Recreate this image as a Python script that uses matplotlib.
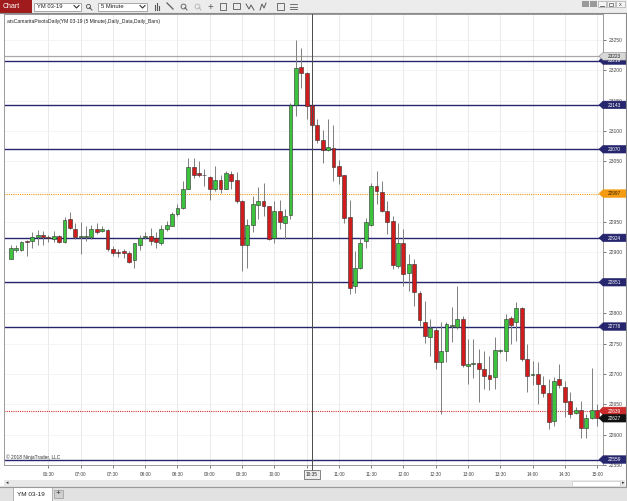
import numpy as np
import pandas as pd
import matplotlib
matplotlib.use("Agg")
import matplotlib.pyplot as plt
from matplotlib.patches import Rectangle, Polygon

plt.rcParams["font.family"] = ["Liberation Sans", "DejaVu Sans"]

# 5 minute YM 03-19 bars, 05:55 .. 15:00
opens = [22890, 22904, 22904, 22919, 22919, 22926, 22928, 22925, 22922, 22927,
         22917, 22955, 22939, 22926, 22926, 22926, 22939, 22935, 22937, 22905,
         22901, 22903, 22899, 22887, 22912, 22926, 22927, 22923, 22916, 22939,
         22944, 22963, 22974, 23005, 23040, 23031, 23027, 23024, 23004, 23020,
         23005, 23030, 23020, 22985, 22913, 22946, 22978, 22985, 22976, 22923,
         22968, 22948, 22961, 23143, 23205, 23196, 23143, 23110, 23086, 23068,
         23072, 23043, 23027, 22959, 22845, 22875, 22919, 22946, 23009, 22999,
         22968, 22952, 22878, 22916, 22866, 22881, 22834, 22786, 22760, 22772,
         22719, 22738, 22779, 22778, 22790, 22713, 22716, 22718, 22708, 22698,
         22695, 22738, 22738, 22792, 22786, 22808, 22725, 22699, 22700, 22682,
         22669, 22622, 22691, 22678, 22656, 22636, 22640, 22611, 22627, 22641]
highs = [22912, 22912, 22919, 22920, 22933, 22937, 22935, 22928, 22935, 22928,
         22958, 22967, 22949, 22950, 22944, 22946, 22949, 22944, 22938, 22911,
         22905, 22905, 22903, 22916, 22928, 22934, 22941, 22933, 22946, 22952,
         22966, 22979, 23017, 23056, 23056, 23051, 23037, 23026, 23042, 23027,
         23034, 23034, 23033, 22987, 22955, 22993, 23007, 23015, 22976, 22985,
         22987, 22971, 23146, 23250, 23237, 23198, 23163, 23119, 23102, 23119,
         23110, 23053, 23028, 22987, 22903, 22924, 22957, 23015, 23034, 23017,
         22985, 22960, 22949, 22938, 22897, 22889, 22837, 22820, 22790, 22777,
         22785, 22785, 22810, 22845, 22796, 22758, 22758, 22741, 22738, 22730,
         22760, 22741, 22799, 22796, 22819, 22810, 22749, 22722, 22719, 22697,
         22692, 22695, 22717, 22689, 22671, 22645, 22655, 22634, 22709, 22651]
lows = [22889, 22901, 22903, 22894, 22908, 22913, 22913, 22917, 22917, 22916,
        22915, 22938, 22922, 22897, 22919, 22922, 22930, 22933, 22903, 22895,
        22893, 22891, 22882, 22874, 22904, 22922, 22913, 22908, 22913, 22935,
        22943, 22960, 22971, 23004, 23023, 23025, 23009, 22987, 23001, 22998,
        23004, 23004, 22982, 22870, 22875, 22933, 22955, 22960, 22920, 22915,
        22938, 22922, 22955, 23124, 23171, 23120, 23100, 23080, 23048, 23067,
        23017, 23012, 22949, 22831, 22834, 22872, 22908, 22944, 22979, 22966,
        22930, 22872, 22875, 22845, 22837, 22812, 22779, 22751, 22730, 22708,
        22634, 22719, 22752, 22774, 22711, 22684, 22693, 22654, 22675, 22673,
        22675, 22735, 22722, 22749, 22755, 22722, 22670, 22681, 22651, 22662,
        22610, 22614, 22676, 22629, 22627, 22634, 22595, 22595, 22626, 22614]
closes = [22908, 22908, 22917, 22917, 22926, 22929, 22925, 22924, 22927, 22917,
          22953, 22941, 22926, 22926, 22926, 22938, 22934, 22938, 22905, 22899,
          22899, 22899, 22885, 22915, 22924, 22926, 22919, 22917, 22939, 22945,
          22963, 22974, 23004, 23040, 23027, 23027, 23027, 23005, 23020, 23005,
          23031, 23017, 22985, 22913, 22946, 22979, 22984, 22977, 22922, 22968,
          22950, 22960, 23143, 23204, 23196, 23142, 23110, 23086, 23068, 23074,
          23041, 23026, 22957, 22842, 22874, 22916, 22950, 23009, 23001, 22968,
          22950, 22879, 22915, 22864, 22881, 22835, 22788, 22763, 22775, 22720,
          22738, 22782, 22779, 22790, 22714, 22716, 22716, 22708, 22697, 22691,
          22740, 22738, 22790, 22781, 22808, 22724, 22697, 22699, 22684, 22669,
          22620, 22689, 22681, 22654, 22634, 22640, 22611, 22627, 22640, 22627]

# Camarilla pivot levels (daily)
pivot_levels = [23216, 23143, 23070, 22924, 22851, 22778, 22559]
pivot_mid = 22997
prior_high = 23223
prior_close = 22639

price_ticks = list(range(22550, 23251, 50))
time_labels = ["06:30", "07:00", "07:30", "08:00", "08:30", "09:00", "09:30",
               "10:00", "10:30", "11:00", "11:30", "12:00", "12:30", "13:00",
               "13:30", "14:00", "14:30", "15:00"]
cursor_time = "10:35"
# labels fully covered by the level tags / cursor box in the screenshot
hidden_labels = {"23000", "10:30"}

o, h, l, c = (np.array(a, dtype=float) for a in (opens, highs, lows, closes))
times = pd.date_range("2018-12-20 05:55", periods=len(c), freq="5min").strftime("%H:%M")
x = np.arange(len(c))

W, H = 627, 501
fig = plt.figure(figsize=(W / 100, H / 100), dpi=100)
fig.patch.set_facecolor("white")

ax = fig.add_axes([4 / W, 1 - 465 / H, 599 / W, 451 / H])
ax.set_xlim(-1.25, 110.1)
ax.set_ylim(22552.4, 23292.7)

tick_idx = [list(times).index(t) for t in time_labels]
ax.set_xticks(tick_idx)
ax.set_xticklabels(["" if t in hidden_labels else t for t in time_labels])
ax.set_yticks(price_ticks)
ax.set_yticklabels(["" if str(p) in hidden_labels else str(p) for p in price_ticks])
ax.yaxis.tick_right()
ax.tick_params(axis="x", labelsize=3.4, length=2, width=0.5, pad=3, colors="#444444")
ax.tick_params(axis="y", labelsize=3.6, length=2, width=0.5, pad=1.8, colors="#444444")
ax.grid(axis="x", color="#e6e6e6", lw=0.6)
ax.grid(axis="y", color="#f0f0f0", lw=0.5)
ax.set_axisbelow(True)
for s in ax.spines.values():
    s.set_color("#9a9a9a")
    s.set_linewidth(0.7)

# levels
for lv in pivot_levels:
    ax.axhline(lv, color="#26266e", lw=1.0, zorder=1.8)
ax.axhline(pivot_mid, color="#f39c12", lw=0.8, ls=(0, (1, 1)), zorder=1.8)
ax.axhline(prior_high, color="#a8a8a8", lw=0.9, zorder=1.8)
ax.axhline(prior_close, color="#d03030", lw=0.8, ls=(0, (1, 1)), zorder=1.8)

# candles
up = c >= o
ax.vlines(x, l, h, color="#7f7f7f", lw=0.7, zorder=2)
body_lo = np.minimum(o, c)
body_h = np.maximum(np.abs(c - o), 1.2)
ax.bar(x, body_h, bottom=body_lo, width=0.72,
       color=np.where(up, "#3cc23c", "#d01c1c"),
       edgecolor="#2e2e2e", lw=0.4, zorder=3)

cursor_i = list(times).index(cursor_time)

# overlay in pixel coordinates for the window chrome
ov = fig.add_axes([0, 0, 1, 1])
ov.set_zorder(5)
ov.set_xlim(0, W)
ov.set_ylim(H, 0)
ov.axis("off")
ov.patch.set_alpha(0)


def px_y(p):
    return H - ax.transData.transform((0, p))[1]


def px_x(i):
    return ax.transData.transform((i, 0))[0]


# cursor line + time box
cx = px_x(cursor_i)
ov.plot([cx, cx], [13, 472], color="#4a4a4a", lw=0.7)
ov.text(cx, 474.5, cursor_time, fontsize=3.4, ha="center", va="center", color="#222222",
        bbox=dict(boxstyle="square,pad=0.35", fc="#eeeeee", ec="#555555", lw=0.5))


def tag(p, fc, tc, ec=None):
    y = px_y(p)
    ov.add_patch(Polygon([(599, y), (603, y - 3.8), (626, y - 3.8), (626, y + 3.8), (603, y + 3.8)],
                         closed=True, fc=fc, ec=ec or fc, lw=0.4))
    ov.text(614.5, y + 0.2, str(int(p)), fontsize=3.4, ha="center", va="center", color=tc)


tag(23216, "#26266e", "white")
tag(prior_high, "#d8d8d8", "#222222", "#8a8a8a")
for lv in pivot_levels[1:]:
    tag(lv, "#26266e", "white")
tag(pivot_mid, "#f39c12", "#3a2000")
tag(prior_close, "#cc2b2b", "white")
tag(int(c[-1]), "#111111", "white")

# top toolbar
ov.add_patch(Rectangle((0, 0), W, 13, fc="#ececec", ec="none"))
ov.plot([0, W], [13, 13], color="#8a8a8a", lw=0.8)
ov.add_patch(Rectangle((0, 0), 32, 13, fc="#a01c1c", ec="none"))
ov.text(3, 6.5, "Chart", fontsize=5, color="white", va="center")
ov.add_patch(Rectangle((34, 2.5), 47, 8.5, fc="white", ec="#8a8a8a", lw=0.5))
ov.text(37, 6.8, "YM 03-19", fontsize=4.2, color="#222222", va="center")
ov.plot([74, 76.5, 79], [5.5, 8, 5.5], color="#333333", lw=0.8)
ov.plot([88], [6], marker="o", ms=3, mfc="none", mec="#555555", mew=0.6)
ov.plot([89.5, 92], [7.5, 10], color="#555555", lw=0.7)
ov.add_patch(Rectangle((98, 2.5), 49, 8.5, fc="white", ec="#8a8a8a", lw=0.5))
ov.text(101, 6.8, "5 Minute", fontsize=4.2, color="#222222", va="center")
ov.plot([140, 142.5, 145], [5.5, 8, 5.5], color="#333333", lw=0.8)
icon_col = "#5a5a5a"
for dx, top in [(-2, 5), (0, 3), (2, 6)]:
    ov.plot([157 + dx, 157 + dx], [top, 10], color=icon_col, lw=0.8)
ov.plot([167, 173], [3, 9], color=icon_col, lw=0.9)
ov.plot([183], [5.5], marker="o", ms=3.5, mfc="none", mec=icon_col, mew=0.6)
ov.plot([185, 187], [7.5, 10], color=icon_col, lw=0.7)
ov.plot([197], [5.5], marker="o", ms=3.5, mfc="none", mec="#b5b5b5", mew=0.6)
ov.plot([199, 201], [7.5, 10], color="#b5b5b5", lw=0.7)
ov.text(210, 6.5, "+", fontsize=7, color=icon_col, ha="center", va="center")
ov.add_patch(Rectangle((220, 3), 6, 7, fc="none", ec=icon_col, lw=0.6))
ov.add_patch(Rectangle((233, 3), 7, 6, fc="none", ec=icon_col, lw=0.6))
ov.plot([246, 249, 251, 254], [4, 9, 5, 10], color=icon_col, lw=0.7)
ov.plot([260, 262, 264, 266], [10, 4, 8, 3], color=icon_col, lw=0.7)
ov.add_patch(Rectangle((277, 3), 7, 7, fc="none", ec=icon_col, lw=0.6))
for yy in (4, 6.5, 9):
    ov.plot([290, 297], [yy, yy], color=icon_col, lw=0.6)
ov.add_patch(Rectangle((582, 1), 7, 6, fc="#9a9a9a", ec="none"))
ov.add_patch(Rectangle((590, 1), 7, 6, fc="#9a9a9a", ec="none"))
ov.add_patch(Rectangle((598, 1), 8, 6, fc="#f4f4f4", ec="#9a9a9a", lw=0.4))
ov.plot([600, 604], [5.5, 5.5], color="#555555", lw=0.6)
ov.add_patch(Rectangle((607, 1), 8, 6, fc="#f4f4f4", ec="#9a9a9a", lw=0.4))
ov.add_patch(Rectangle((609, 2.5), 4, 3, fc="none", ec="#555555", lw=0.5))
ov.add_patch(Rectangle((616, 1), 9, 6, fc="#f4f4f4", ec="#9a9a9a", lw=0.4))
ov.text(620.5, 4, "x", fontsize=4, color="#444444", ha="center", va="center")

# panel texts
ov.text(7, 21.5, "atsCamaritaPivotsDaily(YM 03-19 (5 Minute),Daily_Data,Daily_Bars)",
        fontsize=3.6, color="#222222", va="center")
ov.text(6, 457.5, "\u00a9 2018 NinjaTrader, LLC", fontsize=3.5, color="#333333", va="center")
ov.plot([625.5, 625.5], [13, 486], color="#8a8a8a", lw=0.8)

# scrollbar and tab strip
ov.add_patch(Rectangle((4, 479.5), 621, 6.5, fc="#e8e8e8", ec="none"))
ov.add_patch(Rectangle((572, 480.5), 48, 5, fc="white", ec="#c0c0c0", lw=0.4))
ov.text(6, 482.8, "\u25c2", fontsize=3.5, color="#333333", va="center")
ov.text(622, 482.8, "\u25b8", fontsize=3.5, color="#333333", va="center")
ov.add_patch(Rectangle((0, 486), W, 15, fc="#e2e2e2", ec="none"))
ov.plot([0, W], [486.5, 486.5], color="#9a9a9a", lw=0.8)
ov.add_patch(Rectangle((13, 487), 39, 14, fc="white", ec="#9a9a9a", lw=0.5))
ov.text(17, 494.5, "YM 03-19", fontsize=4.6, color="#222222", va="center")
ov.add_patch(Rectangle((54, 489.5), 8.5, 8, fc="#d0d0d0", ec="#8a8a8a", lw=0.4))
ov.text(58.2, 493.5, "+", fontsize=6, color="#333333", ha="center", va="center")

fig.savefig("out.png", dpi=100)
